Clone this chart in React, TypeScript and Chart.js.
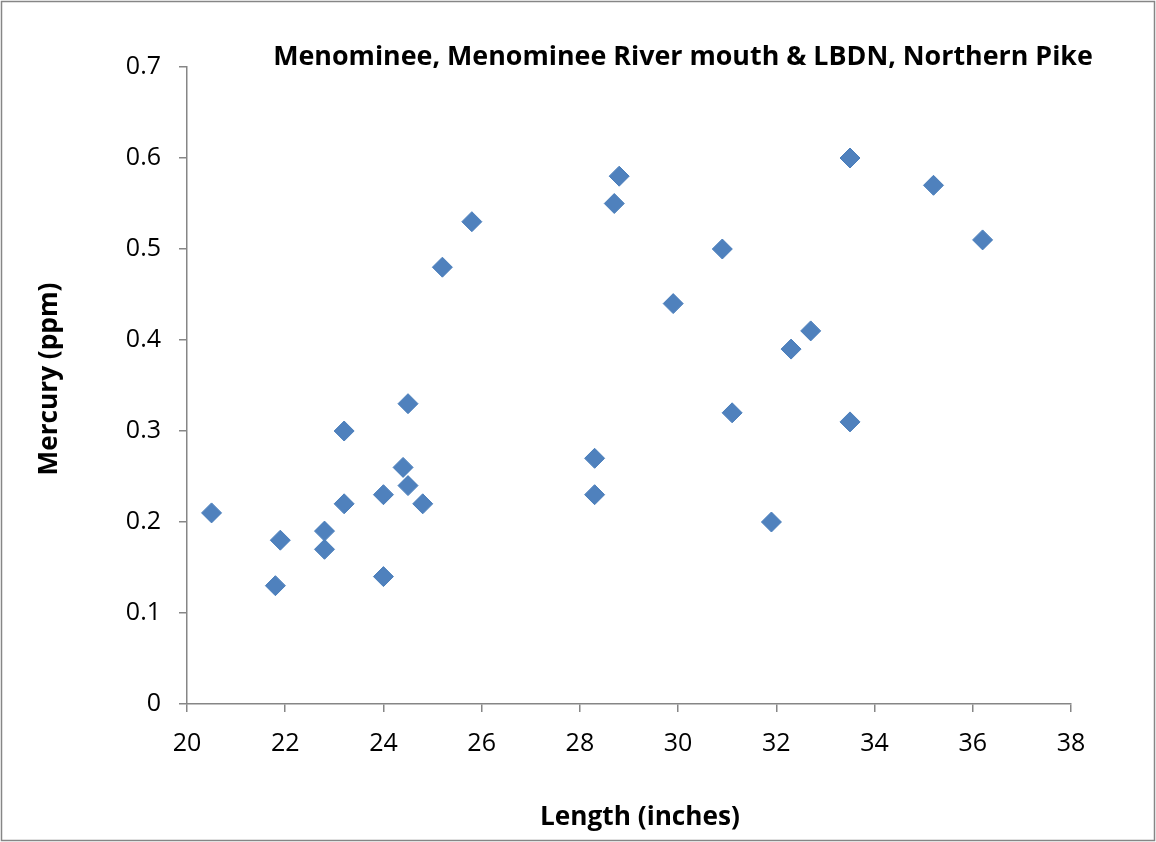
import React, { useEffect, useRef } from "react";
import { Chart, registerables } from "chart.js";

Chart.register(...registerables);

const lengthInches = [
  20.5, 21.8, 21.9, 22.8, 22.8, 23.2, 23.2, 24.0, 24.0, 24.4, 24.5, 24.5, 24.8, 25.2, 25.8,
  28.3, 28.3, 28.7, 28.8, 29.9, 30.9, 31.1, 31.9, 32.3, 32.7, 33.5, 33.5, 35.2, 36.2,
];
const mercuryPpm = [
  0.21, 0.13, 0.18, 0.17, 0.19, 0.3, 0.22, 0.23, 0.14, 0.26, 0.33, 0.24, 0.22, 0.48, 0.53,
  0.27, 0.23, 0.55, 0.58, 0.44, 0.5, 0.32, 0.2, 0.39, 0.41, 0.6, 0.31, 0.57, 0.51,
];
const chartTitle = "Menominee, Menominee River mouth & LBDN, Northern Pike";
const xAxisTitle = "Length (inches)";
const yAxisTitle = "Mercury (ppm)";

const FONT = "'Open Sans', sans-serif";
const AXIS_COLOR = "#868686";

function fitFont(ctx: CanvasRenderingContext2D, text: string, width: number, base: number) {
  ctx.font = `bold ${base}px ${FONT}`;
  const w = ctx.measureText(text).width;
  const size = Math.min(base * 1.3, (base * width) / w);
  ctx.font = `bold ${size}px ${FONT}`;
}

export default function App() {
  const ref = useRef<HTMLCanvasElement | null>(null);

  useEffect(() => {
    document.body.style.margin = "0";
    const canvas = ref.current;
    if (!canvas) return;

    const decor = {
      id: "decor",
      afterDraw(chart: any) {
        const ctx = chart.ctx;
        ctx.save();
        ctx.strokeStyle = AXIS_COLOR;
        ctx.lineWidth = 1.5;
        ctx.strokeRect(1.5, 1.5, 1153, 839);
        ctx.fillStyle = "#000";
        ctx.textAlign = "center";
        ctx.textBaseline = "middle";
        fitFont(ctx, chartTitle, 820, 24);
        ctx.fillText(chartTitle, 683, 57);
        fitFont(ctx, xAxisTitle, 200, 24);
        ctx.fillText(xAxisTitle, 640, 818);
        fitFont(ctx, yAxisTitle, 193, 24);
        ctx.translate(50, 379);
        ctx.rotate(-Math.PI / 2);
        ctx.fillText(yAxisTitle, 0, 0);
        ctx.restore();
      },
    };

    const chart = new Chart(canvas, {
      type: "scatter",
      data: {
        datasets: [
          {
            label: "Northern Pike",
            data: lengthInches.map((x, i) => ({ x, y: mercuryPpm[i] })),
            pointStyle: "rectRot",
            pointRadius: 10,
            pointHoverRadius: 10,
            backgroundColor: "#4F81BD",
            borderColor: "#4A7EBB",
            borderWidth: 1,
          },
        ],
      },
      options: {
        animation: false,
        responsive: false,
        layout: { padding: { left: 0, top: 67, right: 85, bottom: 0 } },
        plugins: {
          legend: { display: false },
          title: { display: false },
          tooltip: { enabled: false },
        },
        scales: {
          x: {
            type: "linear",
            min: 20,
            max: 38,
            ticks: {
              stepSize: 2,
              color: "#000",
              font: { family: FONT, size: 25 },
              padding: 17,
              maxRotation: 0,
            },
            grid: {
              display: true,
              drawOnChartArea: false,
              drawTicks: true,
              tickLength: 8,
              color: AXIS_COLOR,
              lineWidth: 1.5,
            },
            border: { display: true, color: AXIS_COLOR, width: 1.5 },
            afterFit(scale: any) {
              scale.height = 138;
            },
          },
          y: {
            type: "linear",
            min: 0,
            max: 0.7,
            ticks: {
              stepSize: 0.1,
              color: "#000",
              font: { family: FONT, size: 25 },
              padding: 18,
              callback: (v: any) => String(Math.round(Number(v) * 10) / 10),
            },
            grid: {
              display: true,
              drawOnChartArea: false,
              drawTicks: true,
              tickLength: 8,
              color: AXIS_COLOR,
              lineWidth: 1.5,
            },
            border: { display: true, color: AXIS_COLOR, width: 1.5 },
            afterFit(scale: any) {
              scale.width = 187;
            },
          },
        },
      },
      plugins: [decor],
    });

    return () => chart.destroy();
  }, []);

  return (
    <div style={{ position: "absolute", left: 0, top: 0, width: 1156, height: 842, background: "#fff" }}>
      <canvas ref={ref} width={1156} height={842} style={{ width: 1156, height: 842 }} />
    </div>
  );
}
